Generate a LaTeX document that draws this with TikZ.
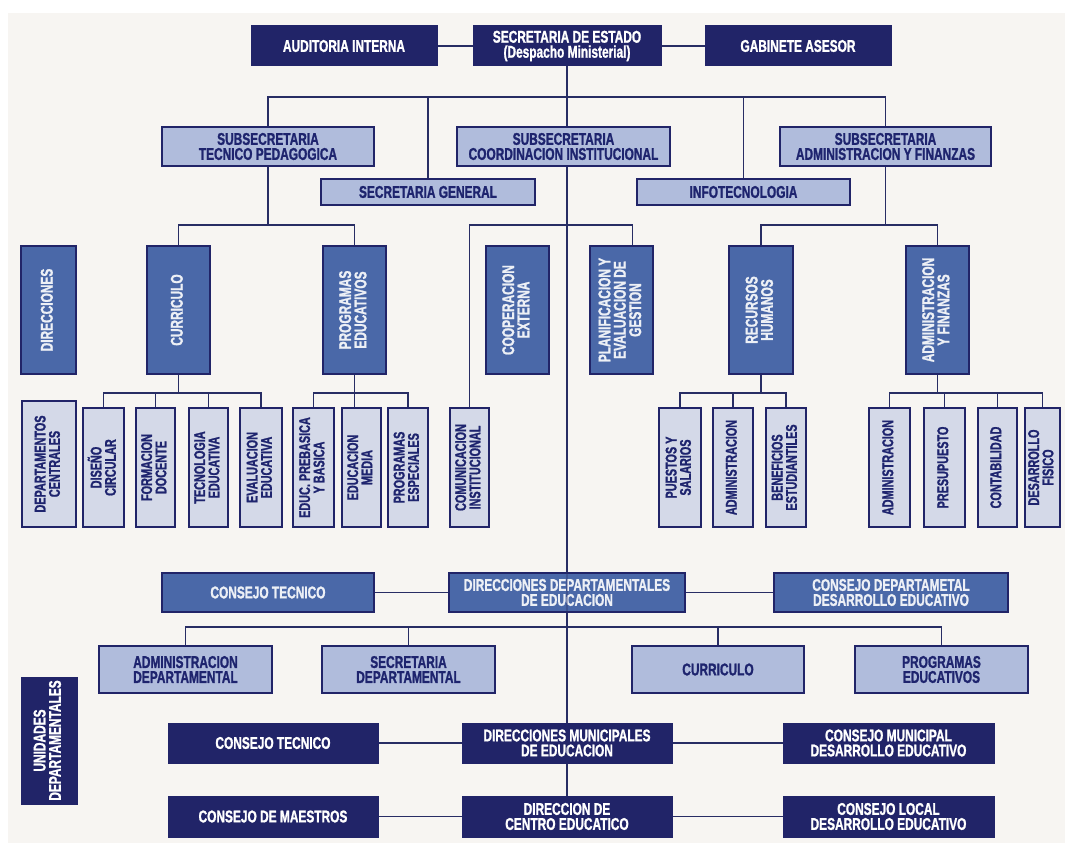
\documentclass[tikz,border=0pt]{standalone}
\usepackage{fontspec}
\setmainfont{Liberation Sans}[FakeStretch=0.7, BoldFeatures={FakeBold=1.2}]
\usetikzlibrary{backgrounds}
\definecolor{navy}{RGB}{33,36,104}
\definecolor{midblue}{RGB}{74,104,168}
\definecolor{ltblue}{RGB}{176,188,220}
\definecolor{ltfour}{RGB}{212,217,232}
\definecolor{linec}{RGB}{40,45,100}
\definecolor{bgc}{RGB}{247,245,242}
\definecolor{txtnavy}{RGB}{30,36,110}
\newcommand{\rot}[1]{\rotatebox{90}{\def\arraystretch{0.78}\begin{tabular}{@{}c@{}}#1\end{tabular}}}
\newcommand{\bx}[7]{\node[#1, minimum width={#5-#3}, minimum height={#6-#4}] (#2) at ({(#3+#5)/2},{(#4+#6)/2}) {#7};}
\tikzset{
  base/.style={font=\bfseries\fontsize{17}{15}\selectfont, align=center, inner sep=1pt},
  dark/.style={base, draw=navy, fill=navy, text=white, line width=1pt},
  mid/.style={base, draw=navy, fill=midblue, text=white!90!midblue, line width=1.5pt},
  lt/.style={base, draw=navy, fill=ltblue, text=txtnavy, line width=2.2pt},
  ltf/.style={base, draw=navy, fill=ltfour, text=txtnavy, line width=1.8pt, font=\bfseries\fontsize{15.5}{15}\selectfont},
  conn/.style={draw=linec, line width=1.8pt}
}
\begin{document}
\begin{tikzpicture}[x=1pt,y=-1pt]
\useasboundingbox (0,0) rectangle (1065,843);
% top row
\bx{dark}{aud}{251}{26}{437}{66}{AUDITORIA INTERNA}
\bx{dark}{sec}{473}{26}{661}{66}{SECRETARIA DE ESTADO\\(Despacho Ministerial)}
\bx{dark}{gab}{705}{26}{891}{66}{GABINETE ASESOR}
% level 2
\bx{lt}{stp}{162}{127}{374}{166}{SUBSECRETARIA\\TECNICO PEDAGOGICA}
\bx{lt}{sci}{457}{127}{670}{166}{SUBSECRETARIA\\COORDINACION INSTITUCIONAL}
\bx{lt}{saf}{780}{127}{991}{166}{SUBSECRETARIA\\ADMINISTRACION Y FINANZAS}
\bx{lt}{sg}{321}{179}{535}{205}{SECRETARIA GENERAL}
\bx{lt}{info}{637}{179}{850}{205}{INFOTECNOLOGIA}
% level 3
\bx{mid}{dir}{21}{246}{76}{374}{\rot{DIRECCIONES}}
\bx{mid}{cur}{147}{246}{210}{374}{\rot{CURRICULO}}
\bx{mid}{prog}{323}{246}{386}{374}{\rot{PROGRAMAS\\EDUCATIVOS}}
\bx{mid}{coop}{486}{246}{549}{374}{\rot{COOPERACION\\EXTERNA}}
\bx{mid}{plan}{590}{246}{653}{374}{\rot{PLANIFICACION Y\\EVALUACION DE\\GESTION}}
\bx{mid}{rh}{729}{246}{793}{374}{\rot{RECURSOS\\HUMANOS}}
\bx{mid}{af}{906}{246}{969}{374}{\rot{ADMINISTRACION\\Y FINANZAS}}
% level 4
\bx{ltf}{dep}{22}{401}{76}{527}{\rot{DEPARTAMENTOS\\CENTRALES}}
\bx{ltf}{dis}{83}{408}{124}{527}{\rot{DISEÑO\\CIRCULAR}}
\bx{ltf}{for}{136}{408}{175}{527}{\rot{FORMACION\\DOCENTE}}
\bx{ltf}{tec}{189}{408}{228}{527}{\rot{TECNOLOGIA\\EDUCATIVA}}
\bx{ltf}{eva}{240}{408}{282}{527}{\rot{EVALUACION\\EDUCATIVA}}
\bx{ltf,line width=2.6pt}{pre}{293}{408}{334}{527}{\rot{EDUC. PREBASICA\\Y BASICA}}
\bx{ltf}{med}{342}{408}{381}{527}{\rot{EDUCACION\\MEDIA}}
\bx{ltf}{esp}{388}{408}{428}{527}{\rot{PROGRAMAS\\ESPECIALES}}
\bx{ltf}{com}{450}{408}{489}{527}{\rot{COMUNICACION\\INSTITUCIONAL}}
\bx{ltf}{pue}{659}{408}{701}{527}{\rot{PUESTOS Y\\SALARIOS}}
\bx{ltf}{adm}{713}{408}{753}{527}{\rot{ADMINISTRACION}}
\bx{ltf}{ben}{766}{408}{806}{527}{\rot{BENEFICIOS\\ESTUDIANTILES}}
\bx{ltf}{admb}{869}{408}{910}{527}{\rot{ADMINISTRACION}}
\bx{ltf}{pres}{924}{408}{965}{527}{\rot{PRESUPUESTO}}
\bx{ltf}{cont}{978}{408}{1017}{527}{\rot{CONTABILIDAD}}
\bx{ltf}{des}{1025}{408}{1060}{527}{\rot{DESARROLLO\\FISICO}}
% departmental
\bx{mid}{cta}{162}{573}{374}{612}{CONSEJO TECNICO}
\bx{mid}{dd}{449}{573}{685}{612}{DIRECCIONES DEPARTAMENTALES\\DE EDUCACION}
\bx{mid}{cdd}{774}{573}{1008}{612}{CONSEJO DEPARTAMETAL\\DESARROLLO EDUCATIVO}
\bx{lt}{ad}{99}{646}{272}{693}{ADMINISTRACION\\DEPARTAMENTAL}
\bx{lt}{sd}{322}{646}{495}{693}{SECRETARIA\\DEPARTAMENTAL}
\bx{lt}{cub}{632}{646}{804}{693}{CURRICULO}
\bx{lt}{pe}{855}{646}{1028}{693}{PROGRAMAS\\EDUCATIVOS}
\bx{dark}{ud}{21}{677}{77}{804}{\rot{UNIDADES\\DEPARTAMENTALES}}
% municipal and local
\bx{dark}{ctb}{168}{723}{378}{763}{CONSEJO TECNICO}
\bx{dark}{dm}{462}{723}{672}{763}{DIRECCIONES MUNICIPALES\\DE EDUCACION}
\bx{dark}{cm}{783}{723}{994}{763}{CONSEJO MUNICIPAL\\DESARROLLO EDUCATIVO}
\bx{dark}{cma}{168}{796}{378}{837}{CONSEJO DE MAESTROS}
\bx{dark}{dc}{462}{796}{672}{837}{DIRECCION DE\\CENTRO EDUCATICO}
\bx{dark}{cl}{783}{796}{994}{837}{CONSEJO LOCAL\\DESARROLLO EDUCATIVO}
% connectors behind boxes
\begin{scope}[on background layer]
\fill[white] (0,0) rectangle (1065,843);
\fill[bgc] (8,13) rectangle (1065,843);
\coordinate (ya) at (0,97);
\coordinate (yb) at (0,225);
\coordinate (yc) at (0,393);
\coordinate (yd) at (0,627);
\draw[conn] (aud.east) -- (sec.west);
\draw[conn] (sec.east) -- (gab.west);
\draw[conn] (sec.south) -- (dc.north);
\draw[conn] (stp.north) -- (stp.north |- ya) -- (saf.north |- ya) -- (saf.north);
\draw[conn] (sg.north) -- (sg.north |- ya);
\draw[conn] (info.north) -- (info.north |- ya);
% level 3 buses
\draw[conn] (stp.south) -- (stp.south |- yb);
\draw[conn] (cur.north) -- (cur.north |- yb) -- (prog.north |- yb) -- (prog.north);
\draw[conn] (com.north) -- (com.north |- yb) -- ([xshift=11pt]plan.north |- yb) -- ([xshift=11pt]plan.north);
\draw[conn] (saf.south) -- (saf.south |- yb);
\draw[conn] (rh.north) -- (rh.north |- yb) -- (af.north |- yb) -- (af.north);
% level 4 buses
\draw[conn] (cur.south) -- (cur.south |- yc);
\draw[conn] (dis.north) -- (dis.north |- yc) -- (eva.north |- yc) -- (eva.north);
\draw[conn] (for.north) -- (for.north |- yc);
\draw[conn] (tec.north) -- (tec.north |- yc);
\draw[conn] (prog.south) -- (prog.south |- med.north);
\draw[conn] (pre.north) -- (pre.north |- yc) -- (esp.north |- yc) -- (esp.north);
\draw[conn] (rh.south) -- (rh.south |- yc);
\draw[conn] (pue.north) -- (pue.north |- yc) -- (ben.north |- yc) -- (ben.north);
\draw[conn] (adm.north) -- (adm.north |- yc);
\draw[conn] (af.south) -- (af.south |- yc);
\draw[conn] (admb.north) -- (admb.north |- yc) -- (des.north |- yc) -- (des.north);
\draw[conn] (pres.north) -- (pres.north |- yc);
\draw[conn] (cont.north) -- (cont.north |- yc);
% departmental
\draw[conn] (cta.east) -- (dd.west);
\draw[conn] (dd.east) -- (cdd.west);
\draw[conn] (ad.north) -- (ad.north |- yd) -- (pe.north |- yd) -- (pe.north);
\draw[conn] (sd.north) -- (sd.north |- yd);
\draw[conn] (cub.north) -- (cub.north |- yd);
\draw[conn] (ctb.east) -- (dm.west);
\draw[conn] (dm.east) -- (cm.west);
\draw[conn] (cma.east) -- (dc.west);
\draw[conn] (dc.east) -- (cl.west);
\end{scope}
% faint trunk seen through the departmental and municipal boxes
\draw[conn, opacity=0.35] (dd.north) -- (dd.south);
\draw[conn, opacity=0.2] (dm.north) -- (dm.south);
\end{tikzpicture}
\end{document}
